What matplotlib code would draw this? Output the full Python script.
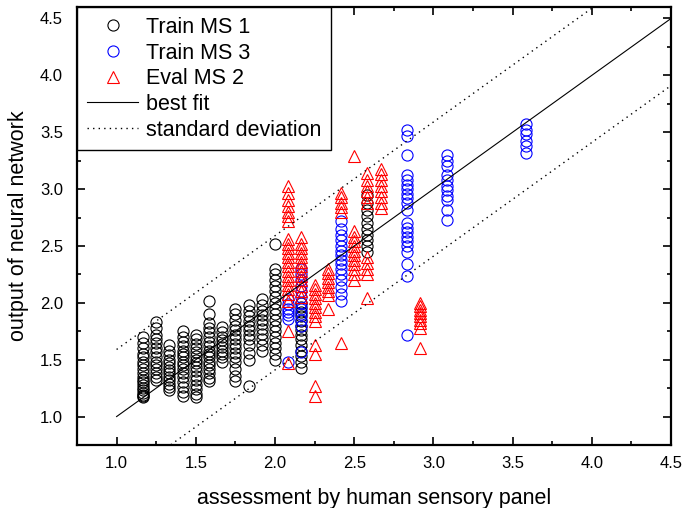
import numpy as np
import matplotlib
matplotlib.use('Agg')
import matplotlib.pyplot as plt
from matplotlib.ticker import MultipleLocator

plt.rcParams['font.family'] = ['Liberation Sans', 'DejaVu Sans']

#%% data: panel score columns and network outputs per column
ms1_cols = [1.167, 1.25, 1.333, 1.417, 1.5, 1.583, 1.667, 1.75, 1.833, 1.917, 2.0, 2.167, 2.583]
ms1_vals = [
    [1.70, 1.65, 1.60, 1.55, 1.52, 1.48, 1.45, 1.42, 1.38, 1.35, 1.32, 1.30, 1.28, 1.25, 1.23, 1.21, 1.19, 1.18, 1.17],
    [1.83, 1.78, 1.72, 1.68, 1.65, 1.60, 1.57, 1.52, 1.48, 1.45, 1.42, 1.38, 1.35, 1.32],
    [1.63, 1.58, 1.54, 1.50, 1.47, 1.44, 1.41, 1.38, 1.35, 1.32, 1.29, 1.26, 1.23],
    [1.75, 1.70, 1.66, 1.62, 1.58, 1.55, 1.52, 1.48, 1.45, 1.42, 1.38, 1.35, 1.30, 1.26, 1.22, 1.18],
    [1.72, 1.68, 1.64, 1.60, 1.57, 1.53, 1.50, 1.47, 1.44, 1.40, 1.36, 1.32, 1.28, 1.24, 1.20, 1.17],
    [2.02, 1.90, 1.82, 1.78, 1.74, 1.70, 1.66, 1.62, 1.58, 1.55, 1.52, 1.48, 1.45, 1.42, 1.38, 1.34, 1.31],
    [1.79, 1.74, 1.70, 1.67, 1.64, 1.61, 1.58, 1.55, 1.52, 1.48],
    [1.95, 1.90, 1.85, 1.80, 1.76, 1.72, 1.68, 1.64, 1.60, 1.56, 1.52, 1.48, 1.42, 1.36, 1.31],
    [1.98, 1.93, 1.88, 1.84, 1.80, 1.76, 1.72, 1.68, 1.63, 1.56, 1.50, 1.27],
    [2.03, 1.98, 1.93, 1.89, 1.85, 1.81, 1.77, 1.73, 1.68, 1.63, 1.58],
    [2.52, 2.30, 2.25, 2.20, 2.15, 2.10, 2.05, 2.00, 1.95, 1.90, 1.85, 1.80, 1.75, 1.70, 1.65, 1.60, 1.55, 1.50],
    [2.00, 1.96, 1.92, 1.88, 1.84, 1.80, 1.76, 1.72, 1.68, 1.63, 1.58, 1.53, 1.48, 1.43],
    [2.95, 2.88, 2.82, 2.76, 2.70, 2.65, 2.60, 2.55, 2.50, 2.45],
]

ms3_cols = [2.083, 2.167, 2.417, 2.833, 3.083, 3.583]
ms3_vals = [
    [2.03, 1.99, 1.95, 1.92, 1.89, 1.86, 1.48],
    [2.30, 2.25, 2.20, 2.15, 2.10, 2.05, 2.00, 1.95, 1.90, 1.85, 1.80, 1.57],
    [2.72, 2.65, 2.60, 2.55, 2.50, 2.46, 2.42, 2.38, 2.34, 2.30, 2.25, 2.20, 2.14, 2.08, 2.02],
    [3.52, 3.47, 3.30, 3.12, 3.08, 3.04, 3.00, 2.96, 2.92, 2.88, 2.82, 2.70, 2.66, 2.62, 2.58, 2.54, 2.50, 2.45, 2.34, 2.24, 1.72],
    [3.30, 3.25, 3.20, 3.12, 3.08, 3.03, 2.99, 2.94, 2.90, 2.82, 2.73],
    [3.57, 3.52, 3.48, 3.42, 3.38, 3.32],
]

ms2_cols = [2.083, 2.167, 2.25, 2.333, 2.417, 2.5, 2.583, 2.667, 2.917]
ms2_vals = [
    [3.03, 2.97, 2.90, 2.85, 2.80, 2.76, 2.72, 2.56, 2.52, 2.48, 2.44, 2.40, 2.36, 2.32, 2.28, 2.24, 2.20, 2.16, 2.12, 2.08, 2.02, 1.75, 1.47],
    [2.58, 2.52, 2.48, 2.44, 2.40, 2.36, 2.32, 2.28, 2.24, 2.20, 2.15, 2.10, 2.05],
    [2.16, 2.12, 2.08, 2.04, 2.00, 1.96, 1.92, 1.88, 1.84, 1.63, 1.55, 1.27, 1.18],
    [2.30, 2.26, 2.22, 2.18, 2.14, 2.10, 2.07, 1.95],
    [2.97, 2.93, 2.88, 2.84, 2.80, 1.65],
    [3.29, 2.63, 2.58, 2.54, 2.50, 2.46, 2.42, 2.38, 2.34, 2.30, 2.25, 2.20],
    [3.14, 3.08, 3.03, 2.98, 2.93, 2.88, 2.40, 2.35, 2.30, 2.25, 2.04],
    [3.18, 3.13, 3.08, 3.03, 2.98, 2.93, 2.88, 2.83],
    [2.00, 1.97, 1.94, 1.91, 1.88, 1.85, 1.82, 1.78, 1.60],
]

fit_x = [1.0, 4.5]
fit_slope = 1.0
fit_offset = 0.0
std_dev = 0.59


def flatten(cols, vals):
    xs, ys = [], []
    for c, v in zip(cols, vals):
        xs += [c] * len(v)
        ys += v
    return xs, ys


fig, ax = plt.subplots(figsize=(6.85, 5.08), dpi=100)
fig.subplots_adjust(left=0.1124, right=0.9796, bottom=0.124, top=0.986)

x1, y1 = flatten(ms1_cols, ms1_vals)
x3, y3 = flatten(ms3_cols, ms3_vals)
x2, y2 = flatten(ms2_cols, ms2_vals)

ms = 8
ax.plot(x1, y1, 'o', mfc='none', mec='black', ms=ms, mew=0.8, label='Train MS 1')
ax.plot(x3, y3, 'o', mfc='none', mec='#0000ff', ms=ms, mew=0.8, label='Train MS 3')
ax.plot(x2, y2, '^', mfc='none', mec='#ff0000', ms=ms + 0.5, mew=0.8, label='Eval MS 2')

fx = np.array(fit_x)
fy = fit_slope * fx + fit_offset
ax.plot(fx, fy, '-', color='black', lw=0.8, label='best fit')
ax.plot(fx, fy + std_dev, color='black', lw=1.0, ls=(0, (1, 3)), label='standard deviation')
ax.plot(fx, fy - std_dev, color='black', lw=1.0, ls=(0, (1, 3)))

ax.set_xlim(0.75, 4.5)
ax.set_ylim(0.75, 4.6)
ax.xaxis.set_major_locator(MultipleLocator(0.5))
ax.xaxis.set_minor_locator(MultipleLocator(0.25))
ax.yaxis.set_major_locator(MultipleLocator(0.5))
ax.yaxis.set_minor_locator(MultipleLocator(0.25))
ax.tick_params(which='both', direction='in', top=True, right=True, width=1.2)
ax.tick_params(which='major', length=6, labelsize=12)
ax.tick_params(axis='x', which='major', pad=8)
ax.tick_params(axis='y', which='major', pad=10)
ax.tick_params(which='minor', length=3)
for s in ax.spines.values():
    s.set_linewidth(1.6)

ax.set_xlabel('assessment by human sensory panel', fontsize=15.5, labelpad=12)
ax.set_ylabel('output of neural network', fontsize=15.5, labelpad=8)

leg = ax.legend(loc='upper left', borderaxespad=0, fancybox=False, framealpha=1,
                edgecolor='black', fontsize=15.5, numpoints=1, handlelength=2.4,
                handletextpad=0.35, labelspacing=0.22, borderpad=0.45)
leg.get_frame().set_linewidth(1.0)

plt.savefig('out.png', dpi=100)
